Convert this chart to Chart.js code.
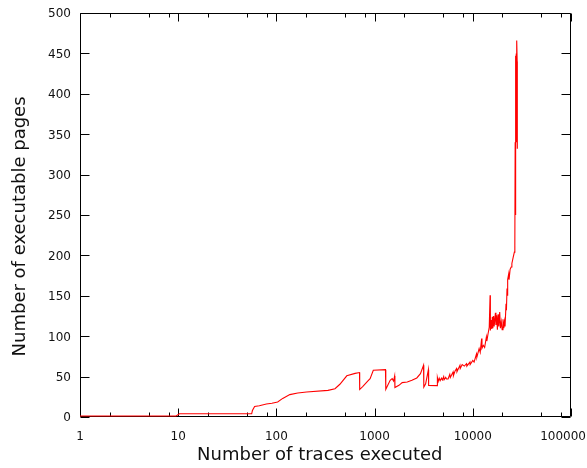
<!DOCTYPE html>
<html><head><meta charset="utf-8">
<script src="https://cdn.jsdelivr.net/npm/chart.js@4/dist/chart.umd.min.js"></script>
<style>html,body{margin:0;padding:0;background:#fff}#wrap{width:587px;height:468px}</style>
</head><body><div id="wrap"><canvas id="c" width="587" height="468"></canvas></div>
<script>
const traces = [1, 9.5, 10.3, 56, 57, 60, 67, 79, 90, 103, 116, 137, 165, 203, 335, 395, 443, 521, 633, 702,
  705, 760, 860, 900, 970, 1290, 1300, 1440, 1510, 1560, 1600, 1610, 1770, 1910, 2150, 2400, 2690, 2930, 3150,
  3170, 3310, 3530, 3550, 4330, 4360, 4450, 4550, 4650, 4800, 4900, 5050, 5100, 5300, 5400, 5600, 5830, 5900,
  6300, 6350, 6600, 6830, 6900, 7400, 7450, 7800, 8200, 8630, 8700, 9360, 9400, 10000, 10300, 10900, 11000,
  11600, 11900, 12300, 12400, 12800, 13200, 13750, 13900, 14300, 14700, 15000, 15100, 15400, 15600, 15800,
  16000, 16300, 16500, 17000, 17200, 17500, 17800, 18100, 18400, 18800, 19100, 19500, 19900, 20300, 20700,
  21000, 21300, 21800, 22000, 22300, 22500, 22800, 23200, 23400, 24000, 24600, 25000, 25800, 26500,
  26800, 27000, 27100, 27300, 27500, 27700, 27900, 28100, 28300, 28400];
const pages = [1.3, 1.3, 4, 4, 8, 13, 14, 16, 17, 18.5, 23, 27.7, 29.7, 31, 33, 35, 40.5, 51, 54, 55,
  34, 38, 45, 47.5, 57.8, 58.6, 34.3, 45.4, 47.5, 44.5, 50.7, 36.4, 39.2, 42.6, 43.3, 45.4, 48.3, 53.7, 64,
  37, 41, 58.6, 39, 38.8, 48.7, 44, 48, 45, 48, 46, 50, 46, 49, 47, 47, 52.8, 49,
  55.7, 51, 57, 60, 56, 64, 60, 65, 63, 66, 63, 68, 65, 70, 68, 78, 74,
  84.6, 80, 97, 85, 88.7, 86, 99, 94, 103, 111, 150.6, 107, 120, 109, 124,
  110, 125, 112, 129, 114, 126, 108, 127, 112, 130, 110, 118, 108, 121, 110,
  118, 112, 140, 132, 159, 150, 170, 177, 170, 183, 185.6, 190, 198, 204,
  212, 340, 250, 447, 334, 450, 340, 466, 440, 332];

const xTickValues = [1, 10, 100, 1000, 10000, 100000];
const xTickLabels = ['1', '10', '100', '1000', '10000', '100000'];
const xMinorValues = [2, 5, 8, 20, 50, 80, 200, 500, 800, 2000, 5000, 8000, 20000, 50000, 80000];
const yTickValues = [0, 50, 100, 150, 200, 250, 300, 350, 400, 450, 500];
const yTickLabels = ['0', '50', '100', '150', '200', '250', '300', '350', '400', '450', '500'];

const points = traces.map((t, i) => ({x: t, y: pages[i]}));
const FONT = "'DejaVu Sans', 'Liberation Sans', sans-serif";

const frameTicks = {
  id: 'frameTicks',
  beforeDatasetsDraw(chart) {
    const {ctx, chartArea: a, scales: {x, y}} = chart;
    ctx.save();
    ctx.strokeStyle = '#000';
    ctx.lineWidth = 1;
    const L = a.left + 0.5, R = a.right - 0.5, T = a.top + 0.5, B = a.bottom - 0.5;
    ctx.beginPath();
    ctx.moveTo(L, T); ctx.lineTo(R, T); ctx.lineTo(R, B); ctx.lineTo(L, B); ctx.closePath();
    yTickValues.forEach(v => {
      const py = Math.round(y.getPixelForValue(v)) + 0.5;
      ctx.moveTo(L, py); ctx.lineTo(L + 9, py);
      ctx.moveTo(R, py); ctx.lineTo(R - 9, py);
    });
    xTickValues.forEach(v => {
      const px = Math.round(x.getPixelForValue(v)) + 0.5;
      ctx.moveTo(px, B); ctx.lineTo(px, B - 8);
      ctx.moveTo(px, T); ctx.lineTo(px, T + 8);
    });
    xMinorValues.forEach(v => {
      const px = Math.round(x.getPixelForValue(v)) + 0.5;
      ctx.moveTo(px, B); ctx.lineTo(px, B - 4);
      ctx.moveTo(px, T); ctx.lineTo(px, T + 4);
    });
    ctx.stroke();

    ctx.fillStyle = '#111';
    ctx.font = '12px ' + FONT;
    ctx.textBaseline = 'alphabetic';
    ctx.textAlign = 'right';
    yTickValues.forEach((v, i) => {
      const py = y.getPixelForValue(v);
      ctx.fillText(yTickLabels[i], a.left - 9, py + 4.3);
    });
    xTickValues.forEach((v, i) => {
      const px = x.getPixelForValue(v);
      const w = ctx.measureText(xTickLabels[i]).width;
      if (px + w / 2 > chart.width - 1) {
        ctx.textAlign = 'right';
        ctx.fillText(xTickLabels[i], chart.width - 1, 439.5);
      } else {
        ctx.textAlign = 'center';
        ctx.fillText(xTickLabels[i], px, 439.5);
      }
    });
    ctx.restore();
  }
};

new Chart(document.getElementById('c'), {
  type: 'scatter',
  data: {
    datasets: [{
      data: points,
      showLine: true,
      borderColor: '#ff0000',
      borderWidth: 1.1,
      pointRadius: 0,
      pointHoverRadius: 0,
      tension: 0,
      fill: false
    }]
  },
  options: {
    responsive: false,
    animation: false,
    devicePixelRatio: 1,
    layout: {padding: {top: 13, right: 16, left: 0, bottom: 0}},
    plugins: {legend: {display: false}, tooltip: {enabled: false}},
    scales: {
      x: {
        type: 'logarithmic',
        min: 1, max: 100000,
        grid: {display: false, drawTicks: false},
        border: {display: false},
        ticks: {display: false},
        title: {display: true, text: 'Number of traces executed  ', color: '#111',
          font: {family: FONT, size: 18}, padding: {top: 0, bottom: 2}},
        afterFit(s) { s.height = 51; s.paddingLeft = 0; s.paddingRight = 0; }
      },
      y: {
        type: 'linear',
        min: 0, max: 500,
        grid: {display: false, drawTicks: false},
        border: {display: false},
        ticks: {display: false},
        title: {display: true, text: 'Number of executable pages    ', color: '#111',
          font: {family: FONT, size: 18}, padding: {top: 10, bottom: 0}},
        afterFit(s) { s.width = 80; s.paddingTop = 0; s.paddingBottom = 0; }
      }
    }
  },
  plugins: [frameTicks]
});
</script>
</body></html>
